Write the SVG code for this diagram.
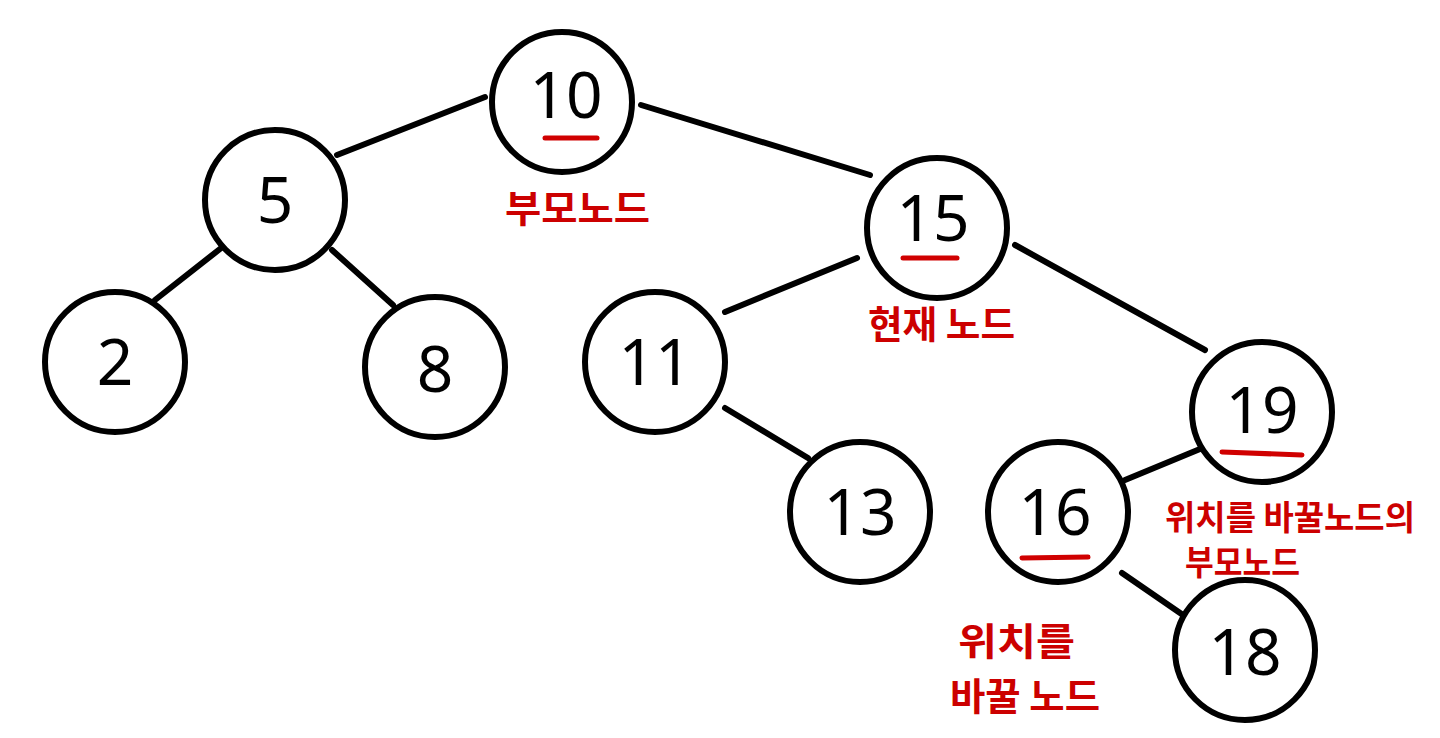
<svg xmlns="http://www.w3.org/2000/svg" width="1440" height="738" viewBox="0 0 1440 738">
<style>
.n circle{fill:#fff;stroke:#000;stroke-width:6}
.n text{font-family:"Noto Sans","Liberation Sans",sans-serif;font-size:64px;fill:#000;text-anchor:middle}
.e line{stroke:#000;stroke-width:6;stroke-linecap:round}
.u{stroke:#d00000;stroke-width:5;stroke-linecap:round}
.lbl{font-family:"Noto Sans CJK KR",sans-serif;font-size:38px;font-weight:bold;fill:#cc0000}
.sm{font-size:34px}
</style>
<rect width="1440" height="738" fill="#fff"/>
<g id="connectors" class="e">
<line x1="337" y1="155" x2="485" y2="97"/>
<line x1="641" y1="105" x2="870" y2="175"/>
<line x1="225" y1="245" x2="155" y2="300"/>
<line x1="332" y1="250" x2="393" y2="305"/>
<line x1="725" y1="312" x2="857" y2="258"/>
<line x1="1015" y1="245" x2="1205" y2="350"/>
<line x1="725" y1="408" x2="808" y2="458"/>
<line x1="1125" y1="480" x2="1200" y2="449"/>
<line x1="1122" y1="573" x2="1183" y2="615"/>
</g>
<g id="n10" class="n"><circle cx="562" cy="102" r="70"/><text x="566" y="118">10</text><line class="u" x1="545" y1="138" x2="597" y2="138"/></g>
<g id="n5" class="n"><circle cx="275" cy="200" r="70"/><text x="275" y="223">5</text></g>
<g id="n2" class="n"><circle cx="115" cy="362" r="70"/><text x="115" y="385">2</text></g>
<g id="n8" class="n"><circle cx="435" cy="367" r="70"/><text x="435" y="392">8</text></g>
<g id="n15" class="n"><circle cx="937" cy="228" r="70"/><text x="933" y="241">15</text><line class="u" x1="903" y1="258" x2="957" y2="258"/></g>
<g id="n11" class="n"><circle cx="655" cy="362" r="70"/><text x="655" y="385">11</text></g>
<g id="n13" class="n"><circle cx="860" cy="512" r="70"/><text x="860" y="535">13</text></g>
<g id="n19" class="n"><circle cx="1262" cy="412" r="70"/><text x="1262" y="433">19</text><line class="u" x1="1222" y1="452" x2="1302" y2="455"/></g>
<g id="n16" class="n"><circle cx="1058" cy="512" r="70"/><text x="1055" y="535">16</text><line class="u" x1="1022" y1="558" x2="1088" y2="557"/></g>
<g id="n18" class="n"><circle cx="1245" cy="650" r="70"/><text x="1245" y="675">18</text></g>
<g id="labels">
<text class="lbl" x="505" y="222" textLength="145" lengthAdjust="spacingAndGlyphs">부모노드</text>
<text class="lbl" x="868" y="338" textLength="147" lengthAdjust="spacingAndGlyphs">현재 노드</text>
<text class="lbl sm" x="1165" y="530" textLength="250" lengthAdjust="spacingAndGlyphs">위치를 바꿀노드의</text>
<text class="lbl sm" x="1185" y="575" textLength="115" lengthAdjust="spacingAndGlyphs">부모노드</text>
<text class="lbl" x="958" y="655" textLength="117" lengthAdjust="spacingAndGlyphs">위치를</text>
<text class="lbl" x="950" y="710" textLength="150" lengthAdjust="spacingAndGlyphs">바꿀 노드</text>
</g>
</svg>
